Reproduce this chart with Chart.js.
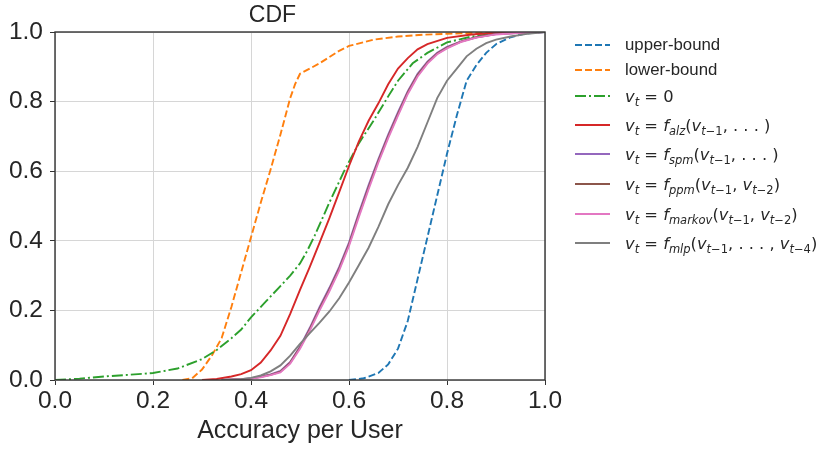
<!DOCTYPE html>
<html>
<head>
<meta charset="utf-8">
<script src="https://cdn.jsdelivr.net/npm/chart.js@4/dist/chart.umd.min.js"></script>
<style>
  html, body { margin: 0; padding: 0; background: #fff; }
  #wrap { position: relative; width: 820px; height: 449px; overflow: hidden; }
  #legend { position: absolute; left: 573px; top: 0; font-family: "Liberation Sans", Arial, sans-serif; font-size: 16.8px; color: #262626; }
  .item { position: absolute; left: 0; height: 22px; white-space: nowrap; display: flex; align-items: center; }
  .item svg { width: 40px; height: 10px; margin-right: 12px; flex: none; }
  .m { font-family: "DejaVu Sans", sans-serif; font-size: 16.3px; }
  .m i { font-style: italic; }
  .m sub { font-size: 11.5px; vertical-align: -4px; line-height: 0; }
</style>
</head>
<body>
<div id="wrap">
  <canvas id="c" width="820" height="449"></canvas>
  <div id="legend"></div>
</div>
<script>
// ---- data ----
const seriesNames = ["upper-bound", "lower-bound", "v_t=0", "alz", "spm", "ppm", "markov", "mlp"];
const legendLabels = [
  'upper-bound',
  'lower-bound',
  '<span class="m"><i>v</i><sub><i>t</i></sub> = 0</span>',
  '<span class="m"><i>v</i><sub><i>t</i></sub> = <i>f</i><sub><i>alz</i></sub>(<i>v</i><sub><i>t</i>−1</sub>, . . . )</span>',
  '<span class="m"><i>v</i><sub><i>t</i></sub> = <i>f</i><sub><i>spm</i></sub>(<i>v</i><sub><i>t</i>−1</sub>, . . . )</span>',
  '<span class="m"><i>v</i><sub><i>t</i></sub> = <i>f</i><sub><i>ppm</i></sub>(<i>v</i><sub><i>t</i>−1</sub>, <i>v</i><sub><i>t</i>−2</sub>)</span>',
  '<span class="m"><i>v</i><sub><i>t</i></sub> = <i>f</i><sub><i>markov</i></sub>(<i>v</i><sub><i>t</i>−1</sub>, <i>v</i><sub><i>t</i>−2</sub>)</span>',
  '<span class="m"><i>v</i><sub><i>t</i></sub> = <i>f</i><sub><i>mlp</i></sub>(<i>v</i><sub><i>t</i>−1</sub>, . . . , <i>v</i><sub><i>t</i>−4</sub>)</span>'
];
const xTicks = [0.0, 0.2, 0.4, 0.6, 0.8, 1.0];
const yTicks = [0.0, 0.2, 0.4, 0.6, 0.8, 1.0];

const upperX = [0.60,0.63,0.66,0.68,0.70,0.72,0.74,0.76,0.78,0.80,0.82,0.84,0.86,0.88,0.90,0.93,0.96,1.0];
const upperY = [0,0.005,0.02,0.045,0.09,0.17,0.29,0.41,0.53,0.65,0.76,0.86,0.905,0.94,0.965,0.985,0.996,1.0];

const lowerX = [0.26,0.28,0.30,0.32,0.34,0.36,0.38,0.40,0.42,0.44,0.46,0.48,0.49,0.50,0.52,0.54,0.56,0.58,0.60,0.65,0.70,0.75,0.80,0.85,0.90,1.0];
const lowerY = [0,0.005,0.03,0.07,0.12,0.21,0.31,0.41,0.51,0.605,0.705,0.81,0.85,0.88,0.895,0.91,0.928,0.946,0.96,0.978,0.987,0.992,0.995,0.997,0.999,1.0];

const zeroX = [0,0.05,0.10,0.15,0.20,0.25,0.30,0.33,0.36,0.38,0.40,0.43,0.46,0.48,0.50,0.515,0.53,0.56,0.59,0.62,0.65,0.68,0.70,0.73,0.76,0.80,0.85,0.90,0.95,1.0];
const zeroY = [0,0.004,0.01,0.015,0.02,0.033,0.06,0.086,0.12,0.145,0.18,0.225,0.27,0.30,0.335,0.372,0.415,0.51,0.6,0.68,0.745,0.815,0.86,0.91,0.94,0.97,0.987,0.996,0.999,1.0];

const alzX = [0.30,0.33,0.36,0.38,0.40,0.42,0.44,0.46,0.48,0.50,0.52,0.54,0.56,0.58,0.60,0.62,0.64,0.66,0.68,0.70,0.72,0.74,0.76,0.80,0.85,0.90,1.0];
const alzY = [0,0.003,0.01,0.017,0.028,0.05,0.085,0.127,0.19,0.259,0.325,0.395,0.465,0.54,0.615,0.685,0.745,0.795,0.85,0.895,0.925,0.95,0.965,0.983,0.993,0.998,1.0];

const spmX = [0.34,0.38,0.40,0.42,0.44,0.46,0.48,0.50,0.52,0.54,0.56,0.58,0.60,0.62,0.64,0.66,0.68,0.70,0.72,0.74,0.76,0.78,0.80,0.83,0.86,0.90,0.95,1.0];
const spmY = [0,0.002,0.005,0.01,0.016,0.026,0.052,0.096,0.15,0.21,0.265,0.325,0.395,0.48,0.56,0.635,0.705,0.77,0.83,0.88,0.915,0.94,0.957,0.974,0.985,0.994,0.998,1.0];

const ppmX = [0.34,0.38,0.40,0.42,0.44,0.46,0.48,0.50,0.52,0.54,0.56,0.58,0.60,0.62,0.64,0.66,0.68,0.70,0.72,0.74,0.76,0.78,0.80,0.83,0.86,0.90,0.95,1.0];
const ppmY = [0,0.002,0.004,0.009,0.015,0.024,0.05,0.093,0.146,0.205,0.26,0.32,0.39,0.474,0.554,0.63,0.70,0.765,0.826,0.876,0.912,0.938,0.955,0.973,0.985,0.994,0.998,1.0];

const markovX = [0.34,0.38,0.40,0.42,0.44,0.46,0.48,0.50,0.52,0.54,0.56,0.58,0.60,0.62,0.64,0.66,0.68,0.70,0.72,0.74,0.76,0.78,0.80,0.83,0.86,0.90,0.95,1.0];
const markovY = [0,0.002,0.004,0.008,0.014,0.022,0.047,0.09,0.142,0.2,0.255,0.315,0.385,0.468,0.548,0.625,0.695,0.76,0.822,0.872,0.909,0.936,0.953,0.972,0.984,0.993,0.998,1.0];

const mlpX = [0.34,0.38,0.40,0.42,0.44,0.46,0.48,0.50,0.52,0.54,0.56,0.58,0.60,0.62,0.64,0.66,0.68,0.70,0.72,0.74,0.76,0.78,0.80,0.82,0.84,0.86,0.88,0.90,0.93,0.96,1.0];
const mlpY = [0,0.002,0.006,0.013,0.025,0.042,0.07,0.104,0.135,0.165,0.197,0.235,0.28,0.33,0.38,0.44,0.505,0.56,0.61,0.67,0.74,0.81,0.86,0.895,0.93,0.952,0.968,0.978,0.987,0.994,1.0];

const seriesX = [upperX, lowerX, zeroX, alzX, spmX, ppmX, markovX, mlpX];
const seriesY = [upperY, lowerY, zeroY, alzY, spmY, ppmY, markovY, mlpY];
const colors = ["#1f77b4", "#ff7f0e", "#2ca02c", "#d62728", "#9467bd", "#8c564b", "#e377c2", "#7f7f7f"];
const dashes = [[7, 3], [7, 3], [11, 3, 2, 3], [], [], [], [], []];

// ---- chart ----
const datasets = seriesNames.map((n, i) => ({
  label: n,
  data: seriesX[i].map((x, k) => ({ x: x, y: seriesY[i][k] })),
  borderColor: colors[i],
  backgroundColor: colors[i],
  borderWidth: 1.9,
  borderDash: dashes[i],
  pointRadius: 0,
  tension: 0,
  fill: false,
  showLine: true,
  order: seriesNames.length - 1 - i
}));

const frame = {
  id: 'frame',
  afterDraw(chart) {
    const a = chart.chartArea, ctx = chart.ctx;
    ctx.save();
    ctx.strokeStyle = '#333333';
    ctx.lineWidth = 1.4;
    ctx.strokeRect(a.left, a.top, a.right - a.left, a.bottom - a.top);
    ctx.restore();
  }
};

const tickFont = { family: '"Liberation Sans", Arial, sans-serif', size: 24.5 };

new Chart(document.getElementById('c'), {
  type: 'scatter',
  data: { datasets },
  plugins: [frame],
  options: {
    responsive: false,
    animation: false,
    layout: { padding: { left: 0, right: 275, top: 0, bottom: 0 } },
    plugins: {
      legend: { display: false },
      tooltip: { enabled: false },
      title: {
        display: true, text: 'CDF', color: '#262626',
        font: { family: '"Liberation Sans", Arial, sans-serif', size: 23, weight: 'normal' },
        padding: { top: 2, bottom: 2.4 }
      }
    },
    scales: {
      x: {
        type: 'linear', min: 0, max: 1,
        afterBuildTicks: s => { s.ticks = xTicks.map(v => ({ value: v })); },
        afterFit: s => { s.height = 69; },
        ticks: { callback: v => v.toFixed(1), color: '#262626', font: tickFont, padding: 2, maxRotation: 0 },
        grid: { color: '#d6d6d6', lineWidth: 1, tickLength: 5, tickColor: '#333333', drawTicks: true },
        border: { display: false },
        title: { display: true, text: 'Accuracy per User', color: '#262626', font: { family: '"Liberation Sans", Arial, sans-serif', size: 25 }, padding: { top: 0, bottom: 3 } }
      },
      y: {
        type: 'linear', min: 0, max: 1,
        afterBuildTicks: s => { s.ticks = yTicks.map(v => ({ value: v })); },
        afterFit: s => { s.width = 55; },
        ticks: { callback: v => v.toFixed(1), color: '#262626', font: tickFont, padding: 7 },
        grid: { color: '#d6d6d6', lineWidth: 1, tickLength: 5, tickColor: '#333333', drawTicks: true },
        border: { display: false }
      }
    }
  }
});

// ---- legend (HTML, built from the same arrays) ----
const legendTops = [45, 70, 96, 125, 154, 184, 214, 243];
const lg = document.getElementById('legend');
legendLabels.forEach((lab, i) => {
  const d = document.createElement('div');
  d.className = 'item';
  d.style.top = (legendTops[i] - 11) + 'px';
  const da = dashes[i].length ? dashes[i].join(',') : 'none';
  d.innerHTML = '<svg viewBox="0 0 40 10"><line x1="2" y1="5" x2="37" y2="5" stroke="' + colors[i] +
    '" stroke-width="1.9" stroke-dasharray="' + da + '"/></svg>' + lab;
  lg.appendChild(d);
});
</script>
</body>
</html>
